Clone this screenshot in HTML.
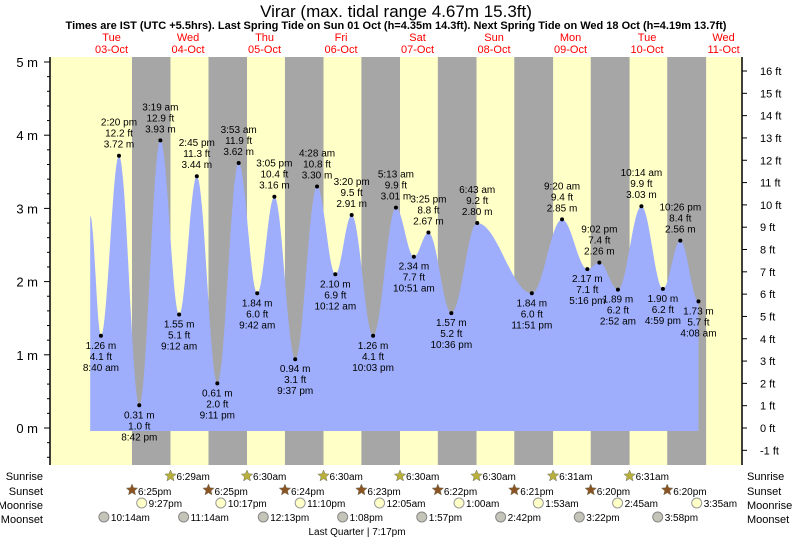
<!DOCTYPE html>
<html><head><meta charset="utf-8"><style>
body{margin:0;background:#fff;font-family:"Liberation Sans",sans-serif}
svg text{font-family:"Liberation Sans",sans-serif}
</style></head><body>
<svg id="c" width="793" height="539" xmlns="http://www.w3.org/2000/svg">
<text x="396" y="17" font-size="17" text-anchor="middle">Virar (max. tidal range 4.67m 15.3ft)</text>
<text x="396" y="29" font-size="11" font-weight="bold" text-anchor="middle">Times are IST (UTC +5.5hrs). Last Spring Tide on Sun 01 Oct (h=4.35m 14.3ft). Next Spring Tide on Wed 18 Oct (h=4.19m 13.7ft)</text>
<g id="g"></g>
</svg>
<script>
// tide extrema: day offset from 03-Oct, hour (24h), height (m)
const tideDays=[0,0,0,1,1,1,1,2,2,2,2,3,3,3,3,4,4,4,4,5,5,6,6,6,7,7,7,7,8];
const tideHours=[8.667,14.333,20.7,3.317,9.2,14.75,21.183,3.883,9.7,15.083,21.617,4.467,10.2,15.333,22.05,5.217,10.85,15.417,22.6,6.717,23.85,9.333,17.267,21.033,2.867,10.233,16.983,22.433,4.133];
const tideHeights=[1.26,3.72,0.31,3.93,1.55,3.44,0.61,3.62,1.84,3.16,0.94,3.30,2.10,2.91,1.26,3.01,2.34,2.67,1.57,2.80,1.84,2.85,2.17,2.26,1.89,3.03,1.90,2.56,1.73];
const tideTimes=["8:40 am","2:20 pm","8:42 pm","3:19 am","9:12 am","2:45 pm","9:11 pm","3:53 am","9:42 am","3:05 pm","9:37 pm","4:28 am","10:12 am","3:20 pm","10:03 pm","5:13 am","10:51 am","3:25 pm","10:36 pm","6:43 am","11:51 pm","9:20 am","5:16 pm","9:02 pm","2:52 am","10:14 am","4:59 pm","10:26 pm","4:08 am"];
const startHour=5.3, startHeight=2.9;
const dayNames=["Tue","Wed","Thu","Fri","Sat","Sun","Mon","Tue","Wed"];
const dayDates=["03-Oct","04-Oct","05-Oct","06-Oct","07-Oct","08-Oct","09-Oct","10-Oct","11-Oct"];
const sunriseDays=[1,2,3,4,5,6,7,8];
const sunriseHours=[6.483,6.5,6.5,6.5,6.5,6.517,6.517,6.53];
const sunriseLabels=["6:29am","6:30am","6:30am","6:30am","6:30am","6:31am","6:31am",""];
const sunsetHours=[18.417,18.417,18.4,18.383,18.367,18.35,18.333,18.333];
const sunsetLabels=["6:25pm","6:25pm","6:24pm","6:23pm","6:22pm","6:21pm","6:20pm","6:20pm"];
const moonriseT=[21.45,46.28,71.17,96.08,121,145.88,170.75,195.58];
const moonriseLabels=["9:27pm","10:17pm","11:10pm","12:05am","1:00am","1:53am","2:45am","3:35am"];
const moonsetT=[10.23,35.23,60.22,85.13,109.95,134.7,159.37,183.97];
const moonsetLabels=["10:14am","11:14am","12:13pm","1:08pm","1:57pm","2:42pm","3:22pm","3:58pm"];
const mTicks=[0,1,2,3,4,5];
const ftTicks=[-1,0,1,2,3,4,5,6,7,8,9,10,11,12,13,14,15,16];

const NS="http://www.w3.org/2000/svg";
const g=document.getElementById('g');
const L=50,R=742,T=57,B=465;
const X=t=>73.3+t*3.1875;
const Y=m=>428-m*73.2;
function mk(tag,attrs,txt){const e=document.createElementNS(NS,tag);for(const k in attrs)e.setAttribute(k,attrs[k]);if(txt!=null)e.textContent=txt;g.appendChild(e);return e;}
let e;
e=mk('rect',{x:L,y:T,width:R-L,height:B-T,fill:'#ffffc8'});


for(let i=0;i<sunsetHours.length;i++){
 const x1=X(i*24+sunsetHours[i]);const x2=Math.min(R,X((i+1)*24+sunriseHours[i]));
 e=mk('rect',{x:x1,y:T,width:x2-x1,height:B-T,fill:'#a6a6a6'});
 
 
}
// tide curve
const pts=[[startHour,startHeight]];
for(let i=0;i<tideDays.length;i++)pts.push([tideDays[i]*24+tideHours[i],tideHeights[i]]);
let d=`M${X(pts[0][0])},${Y(0)+3} L${X(pts[0][0])},${Y(pts[0][1])}`;
for(let i=0;i<pts.length-1;i++){
 const [t0,h0]=pts[i],[t1,h1]=pts[i+1];
 for(let k=1;k<=20;k++){const f=k/20;const h=h0+(h1-h0)*(1-Math.cos(Math.PI*f))/2;d+=` L${X(t0+(t1-t0)*f).toFixed(1)},${Y(h).toFixed(1)}`;}
}
d+=` L${X(pts[pts.length-1][0])},${Y(0)+3} Z`;
e=mk('path',{d:d,fill:'#9eaefc'});


for(let i=0;i<tideDays.length;i++){
 const x=X(tideDays[i]*24+tideHours[i]),y=Y(tideHeights[i]);
 const high=(i%2==1)?true:false;
 const isHigh=(i>0?tideHeights[i]>tideHeights[i-1]:tideHeights[i]>startHeight);
 e=mk('circle',{cx:x,cy:y,r:2,fill:'#000'});
 
 
 const ft=(tideHeights[i]/0.3048).toFixed(1)+' ft',m=tideHeights[i].toFixed(2)+' m';
 const lines=isHigh?[tideTimes[i],ft,m]:[m,ft,tideTimes[i]];
 const y0=isHigh?y-30:y+13;
 lines.forEach((s,j)=>{e=mk('text',{x:x,y:y0+j*11,'font-size':10,'text-anchor':'middle'},s);
 
 });
}
// axes
e=mk('line',{x1:L,y1:T,x2:L,y2:B,stroke:'#000','stroke-width':1.5});


e=mk('line',{x1:R,y1:T,x2:R,y2:B,stroke:'#000','stroke-width':1.5});


for(let v=-0.4;v<=5.01;v+=0.2){const y=Y(v);const major=Math.abs(v-Math.round(v))<0.01;
 mk('line',{x1:major?L-6:L-3,y1:y,x2:L,y2:y,stroke:'#000'});}
mTicks.forEach(v=>{e=mk('text',{x:38,y:Y(v)+5,'font-size':13,'text-anchor':'end'},v+' m');
 
 });
ftTicks.forEach(v=>{const y=428-v*0.3048*73.2;mk('line',{x1:R,y1:y,x2:R+5,y2:y,stroke:'#000'});
 e=mk('text',{x:760,y:y+4,'font-size':11},v+' ft');
 
 });
dayNames.forEach((n,i)=>{const x=X(i*24+12);
 e=mk('text',{x:x,y:41,'font-size':11,fill:'#f00','text-anchor':'middle'},n);
 
 
 e=mk('text',{x:x,y:53,'font-size':11,fill:'#f00','text-anchor':'middle'},dayDates[i]);
 
 });
// bottom rows
[['Sunrise',480],['Sunset',495],['Moonrise',509],['Moonset',523]].forEach(([n,y])=>{
 e=mk('text',{x:43,y:y,'font-size':11,'text-anchor':'end'},n);
 
 
 e=mk('text',{x:747,y:y,'font-size':11},n);
 
 });
function star(cx,cy,r,fill){let p='';for(let k=0;k<10;k++){const a=-Math.PI/2+k*Math.PI/5,rr=k%2?r*0.45:r;p+=(k?'L':'M')+(cx+rr*Math.cos(a)).toFixed(1)+','+(cy+rr*Math.sin(a)).toFixed(1);}return mk('path',{d:p+'Z',fill:fill,stroke:'#776',"stroke-width":0.5});}
sunriseDays.forEach((dd,i)=>{if(!sunriseLabels[i])return;const x=X(dd*24+sunriseHours[i]);
 e=star(x,476,6,'#b8b03a');
 e=mk('text',{x:x+6,y:480,'font-size':10},sunriseLabels[i]);});
sunsetHours.forEach((h,i)=>{const x=X(i*24+h);
 e=star(x,490,6,'#8a5423');
 e=mk('text',{x:x+6,y:495,'font-size':10},sunsetLabels[i]);});
moonriseT.forEach((t,i)=>{const x=X(t);
 e=mk('circle',{cx:x,cy:503,r:5,fill:'#ffffc8',stroke:'#999'});
 e=mk('text',{x:x+7,y:507,'font-size':10},moonriseLabels[i]);});
moonsetT.forEach((t,i)=>{const x=X(t)-2;
 e=mk('circle',{cx:x,cy:517,r:5,fill:'#c4c4b8',stroke:'#888'});
 e=mk('text',{x:x+7,y:521,'font-size':10},moonsetLabels[i]);});
e=mk('text',{x:357,y:535,'font-size':10,'text-anchor':'middle'},'Last Quarter | 7:17pm');


</script>
</body></html>
